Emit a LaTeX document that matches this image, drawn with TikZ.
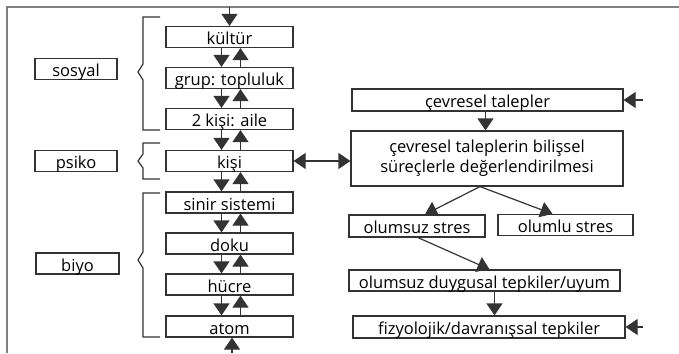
\documentclass[tikz,border=0pt]{standalone}
\usepackage{fontspec}
\setmainfont{Open Sans}
\usetikzlibrary{arrows.meta}
\tikzset{
  tri/.tip={Triangle[length=12pt,width=16pt]},
  box/.style={draw=black!80, line width=1.2pt, inner sep=0pt, minimum height=21pt,
    font=\fontsize{16.5}{20}\selectfont},
  level/.style={box, text height=15pt, text depth=0pt},
  arr/.style={line width=1.2pt, draw=black!80, -tri},
  brace/.style={line width=1.2pt, draw=black!80}
}
\begin{document}
\begin{tikzpicture}[x=1pt,y=-1pt]
\useasboundingbox (0,0) rectangle (679,353);
\draw[line width=1.5pt, gray] (7,353) -- (7,7) -- (679,7);
% levels on the left
\foreach \name/\txt/\y in {kultur/kültür/37, grup/grup: topluluk/78, aile/2 kişi: aile/119,
  kisi/kişi/161, sinir/sinir sistemi/202.5, doku/doku/243.5, hucre/hücre/284.5, atom/atom/326.5}
  \node[level, minimum width=127pt] (\name) at (229.5,\y) {\txt};
\foreach \a/\b in {kultur/grup, grup/aile, aile/kisi, kisi/sinir, sinir/doku, doku/hucre, hucre/atom}
  {
    \draw[arr] ([xshift=-8pt]\a.south) -- ([xshift=-8pt]\b.north);
    \draw[arr] ([xshift=11pt]\b.north) -- ([xshift=11pt]\a.south);
  }
\coordinate (top) at (229.5,7);
\coordinate (bottom) at (232,353);
\draw[arr] (top) -- (kultur.north);
\draw[arr] (bottom) -- (bottom |- atom.south);
\node[level, minimum width=82pt] (sosyal) at (76,69) {sosyal};
\node[level, minimum width=82pt] (psiko) at (76,161) {psiko};
\node[level, minimum width=83pt] (biyo) at (77.5,263.5) {biyo};
\draw[brace] (160,17) -- (143,17) -- (143,64) -- (138,72) -- (143,80) -- (143,130) -- (160,130);
\draw[brace] (160,143) -- (143,143) -- (143,154) -- (138,161) -- (143,168) -- (143,179) -- (160,179);
\draw[brace] (160,193) -- (143,193) -- (143,252) -- (138,260) -- (143,268) -- (143,337) -- (160,337);
% stress process on the right
\node[level, minimum width=271pt, minimum height=22pt] (talepler) at (487.5,100) {çevresel talepler};
\node[box, minimum width=272pt, minimum height=55pt, align=center] (degerlendirme) at (487,158.5)
  {çevresel taleplerin bilişsel\\süreçlerle değerlendirilmesi};
\node[level, minimum width=136pt, minimum height=22pt] (olumsuz) at (417,226) {olumsuz stres};
\node[level, minimum width=135pt] (olumlu) at (565.5,225) {olumlu stres};
\node[level, minimum width=271pt] (duygusal) at (484.5,280.5) {olumsuz duygusal tepkiler/uyum};
\node[level, minimum width=272pt, minimum height=22pt] (fizyolojik) at (489,327) {fizyolojik/davranışsal tepkiler};
\coordinate (talepin) at (643,100);
\coordinate (fizin) at (643,327);
\draw[arr] (talepin) -- (talepler.east);
\draw[arr] (fizin) -- (fizyolojik.east);
\draw[arr] ([xshift=-2pt]talepler.south) -- ([xshift=-2pt]talepler.south |- degerlendirme.north);
\draw[arr, tri-tri] (kisi.east) -- (kisi.east -| degerlendirme.west);
\draw[arr] ([xshift=-7pt]degerlendirme.south) -- ([xshift=8pt]olumsuz.north);
\draw[arr] ([xshift=-7pt]degerlendirme.south) -- ([xshift=-13pt]olumlu.north);
\draw[arr] ([xshift=1pt]olumsuz.south) -- ([xshift=5pt]duygusal.north);
\draw[arr] ([xshift=10pt]duygusal.south) -- ([xshift=10pt]duygusal.south |- fizyolojik.north);
\end{tikzpicture}
\end{document}
